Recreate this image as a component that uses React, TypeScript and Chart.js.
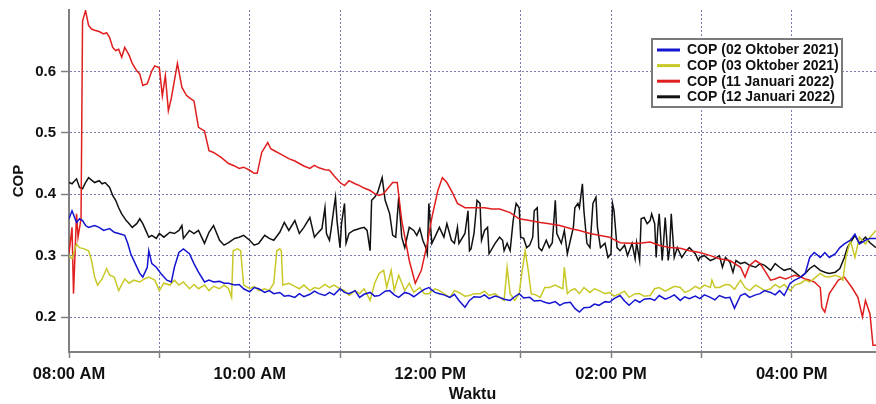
import React, { useEffect, useRef } from "react";
import { Chart, registerables } from "chart.js";

Chart.register(...registerables);

// minutes after 08:00 -> COP
const cop02Okt2021: [number, number][] = [
  [0,0.36],[2,0.373],[5,0.354],[7,0.36],[9,0.357],[11,0.349],[13,0.346],[17,0.349],[20,0.346],[23,0.341],[27,0.344],[30,0.338],[33,0.336],[37,0.333],[39,0.32],[41,0.303],[44,0.287],[47,0.271],[49,0.265],[52,0.281],[53,0.308],[55,0.287],[58,0.281],[61,0.271],[65,0.26],[68,0.257],[70,0.281],[73,0.305],[76,0.311],[80,0.303],[83,0.287],[86,0.273],[90,0.257],[93,0.26],[96,0.257],[100,0.258],[103,0.255],[106,0.255],[110,0.252],[113,0.253],[116,0.246],[120,0.241],[123,0.248],[126,0.246],[130,0.24],[133,0.243],[136,0.238],[140,0.24],[143,0.234],[146,0.235],[150,0.232],[153,0.238],[156,0.233],[160,0.237],[163,0.242],[166,0.238],[170,0.235],[173,0.24],[176,0.236],[180,0.246],[183,0.24],[186,0.238],[190,0.243],[193,0.232],[196,0.237],[200,0.24],[203,0.234],[206,0.235],[210,0.242],[213,0.243],[216,0.236],[219,0.232],[223,0.24],[226,0.238],[229,0.233],[233,0.24],[236,0.245],[239,0.248],[243,0.24],[246,0.238],[249,0.236],[253,0.232],[256,0.237],[259,0.227],[263,0.216],[266,0.227],[269,0.233],[273,0.232],[276,0.236],[279,0.23],[283,0.234],[286,0.232],[289,0.229],[293,0.227],[296,0.233],[299,0.238],[302,0.231],[306,0.232],[309,0.226],[313,0.227],[316,0.224],[319,0.222],[323,0.225],[326,0.219],[329,0.223],[333,0.224],[336,0.214],[339,0.208],[342,0.215],[346,0.216],[349,0.221],[352,0.219],[356,0.225],[359,0.224],[362,0.23],[366,0.235],[369,0.226],[372,0.219],[376,0.228],[379,0.224],[382,0.229],[386,0.23],[389,0.227],[392,0.235],[396,0.229],[399,0.232],[402,0.236],[406,0.227],[409,0.233],[412,0.23],[416,0.234],[419,0.23],[422,0.236],[426,0.232],[429,0.228],[432,0.235],[436,0.231],[439,0.232],[442,0.214],[446,0.235],[449,0.238],[452,0.232],[456,0.236],[459,0.238],[462,0.243],[466,0.24],[469,0.236],[472,0.243],[475,0.235],[479,0.255],[482,0.26],[486,0.265],[489,0.271],[492,0.297],[495,0.305],[499,0.297],[502,0.305],[505,0.297],[509,0.303],[512,0.313],[515,0.319],[519,0.325],[522,0.335],[525,0.319],[529,0.325],[532,0.328],[536,0.328]
];

const cop03Okt2021: [number, number][] = [
  [0,0.3],[2,0.295],[5,0.319],[7,0.313],[10,0.311],[13,0.308],[15,0.292],[17,0.265],[19,0.252],[22,0.262],[25,0.279],[27,0.268],[30,0.265],[33,0.243],[37,0.262],[40,0.255],[43,0.26],[47,0.257],[50,0.262],[53,0.265],[57,0.26],[60,0.243],[63,0.255],[67,0.252],[70,0.26],[73,0.252],[76,0.257],[80,0.246],[83,0.253],[86,0.246],[90,0.252],[93,0.243],[96,0.25],[100,0.246],[103,0.252],[106,0.246],[108,0.232],[109,0.308],[112,0.311],[114,0.308],[116,0.252],[120,0.246],[123,0.25],[126,0.243],[130,0.246],[133,0.243],[136,0.255],[138,0.308],[140,0.311],[141,0.308],[142,0.252],[146,0.255],[150,0.25],[153,0.246],[156,0.252],[160,0.243],[163,0.248],[166,0.246],[170,0.253],[173,0.248],[176,0.252],[180,0.246],[183,0.243],[186,0.235],[190,0.243],[193,0.238],[196,0.246],[200,0.227],[203,0.255],[206,0.271],[209,0.276],[211,0.248],[214,0.276],[216,0.243],[219,0.268],[223,0.243],[226,0.255],[229,0.24],[233,0.248],[236,0.238],[239,0.238],[243,0.246],[246,0.243],[249,0.238],[253,0.232],[256,0.243],[259,0.24],[263,0.234],[266,0.235],[269,0.238],[273,0.238],[276,0.242],[279,0.235],[283,0.238],[286,0.232],[289,0.227],[291,0.281],[293,0.238],[296,0.227],[299,0.238],[301,0.276],[303,0.308],[305,0.276],[307,0.238],[310,0.236],[313,0.232],[316,0.248],[319,0.248],[323,0.252],[326,0.248],[328,0.246],[329,0.281],[331,0.238],[333,0.243],[336,0.246],[339,0.238],[342,0.248],[346,0.24],[349,0.246],[352,0.243],[356,0.238],[359,0.24],[362,0.234],[366,0.238],[369,0.242],[372,0.232],[376,0.238],[379,0.238],[382,0.234],[386,0.235],[389,0.246],[392,0.248],[396,0.242],[399,0.246],[402,0.25],[406,0.248],[409,0.24],[412,0.243],[416,0.25],[419,0.246],[422,0.252],[426,0.248],[427,0.26],[429,0.248],[432,0.248],[436,0.253],[439,0.252],[442,0.245],[446,0.26],[449,0.248],[452,0.243],[456,0.252],[459,0.248],[462,0.243],[466,0.246],[469,0.253],[472,0.248],[475,0.253],[479,0.243],[482,0.252],[486,0.255],[489,0.26],[492,0.257],[495,0.263],[499,0.271],[502,0.266],[505,0.265],[509,0.268],[512,0.265],[514,0.26],[516,0.297],[519,0.325],[522,0.297],[525,0.33],[529,0.319],[532,0.33],[536,0.341]
];

const cop11Jan2022: [number, number][] = [
  [0,0.303],[2,0.346],[3,0.238],[5,0.368],[6,0.33],[8,0.36],[9,0.682],[11,0.699],[13,0.675],[15,0.669],[17,0.667],[20,0.665],[23,0.661],[25,0.663],[27,0.655],[29,0.639],[31,0.634],[33,0.636],[35,0.623],[37,0.639],[40,0.626],[42,0.613],[45,0.601],[47,0.596],[49,0.577],[52,0.58],[55,0.601],[57,0.609],[60,0.606],[62,0.56],[64,0.593],[66,0.536],[68,0.557],[72,0.613],[75,0.574],[78,0.561],[80,0.557],[83,0.552],[86,0.509],[90,0.503],[93,0.471],[96,0.468],[101,0.46],[106,0.45],[110,0.446],[113,0.442],[116,0.444],[120,0.439],[123,0.434],[125,0.434],[128,0.468],[132,0.484],[134,0.474],[137,0.47],[140,0.466],[143,0.462],[146,0.458],[150,0.454],[153,0.45],[156,0.446],[160,0.442],[163,0.447],[166,0.443],[170,0.44],[173,0.439],[176,0.43],[180,0.419],[183,0.414],[186,0.422],[190,0.417],[193,0.414],[196,0.41],[200,0.406],[203,0.401],[206,0.398],[209,0.401],[212,0.41],[215,0.419],[218,0.419],[221,0.357],[226,0.292],[230,0.255],[234,0.276],[238,0.32],[241,0.362],[245,0.406],[248,0.427],[251,0.419],[255,0.401],[258,0.385],[263,0.378],[269,0.378],[276,0.378],[281,0.376],[286,0.376],[293,0.37],[299,0.36],[306,0.357],[313,0.354],[319,0.352],[326,0.349],[333,0.344],[339,0.341],[346,0.336],[352,0.333],[359,0.33],[366,0.321],[372,0.32],[379,0.32],[386,0.322],[392,0.317],[399,0.313],[406,0.312],[412,0.308],[419,0.305],[426,0.3],[432,0.295],[439,0.292],[446,0.281],[449,0.265],[452,0.284],[456,0.292],[459,0.287],[462,0.276],[466,0.26],[469,0.262],[472,0.265],[476,0.262],[479,0.265],[482,0.268],[486,0.265],[489,0.262],[492,0.26],[495,0.257],[499,0.248],[500,0.216],[502,0.208],[505,0.238],[511,0.26],[515,0.265],[520,0.248],[524,0.232],[527,0.2],[529,0.227],[532,0.205],[534,0.154],[536,0.154]
];

const cop12Jan2022: [number, number][] = [
  [0,0.419],[2,0.417],[5,0.425],[7,0.411],[9,0.409],[11,0.419],[13,0.427],[17,0.419],[20,0.422],[22,0.417],[24,0.419],[27,0.411],[29,0.398],[31,0.39],[33,0.378],[35,0.368],[38,0.357],[40,0.352],[42,0.346],[45,0.352],[47,0.36],[49,0.352],[51,0.341],[53,0.33],[55,0.333],[58,0.328],[60,0.336],[63,0.33],[67,0.338],[70,0.336],[73,0.341],[75,0.349],[76,0.328],[80,0.341],[83,0.336],[86,0.341],[90,0.32],[93,0.338],[96,0.349],[100,0.325],[103,0.317],[106,0.321],[110,0.328],[113,0.33],[116,0.333],[120,0.325],[123,0.317],[126,0.32],[130,0.333],[133,0.328],[136,0.325],[140,0.338],[143,0.354],[146,0.341],[150,0.357],[153,0.336],[156,0.346],[160,0.362],[163,0.33],[165,0.336],[168,0.344],[170,0.378],[171,0.336],[173,0.325],[174,0.341],[176,0.378],[177,0.395],[178,0.357],[180,0.313],[181,0.352],[183,0.385],[184,0.32],[186,0.336],[189,0.341],[193,0.344],[196,0.346],[198,0.341],[200,0.308],[201,0.39],[203,0.395],[205,0.403],[206,0.411],[208,0.427],[210,0.39],[213,0.368],[215,0.333],[217,0.33],[219,0.395],[221,0.33],[223,0.313],[226,0.346],[229,0.341],[231,0.333],[233,0.344],[235,0.325],[237,0.313],[238,0.303],[239,0.385],[241,0.32],[243,0.33],[246,0.346],[249,0.33],[251,0.352],[254,0.325],[256,0.32],[258,0.346],[259,0.32],[263,0.336],[265,0.373],[266,0.308],[267,0.311],[269,0.336],[271,0.39],[273,0.385],[274,0.325],[276,0.341],[278,0.346],[279,0.303],[283,0.32],[286,0.33],[288,0.325],[289,0.308],[291,0.32],[293,0.308],[295,0.357],[297,0.385],[299,0.378],[300,0.33],[302,0.328],[304,0.313],[306,0.317],[308,0.33],[309,0.373],[311,0.378],[312,0.313],[314,0.308],[317,0.325],[319,0.313],[321,0.321],[323,0.39],[324,0.336],[327,0.32],[329,0.341],[331,0.303],[333,0.325],[335,0.346],[336,0.378],[338,0.385],[339,0.378],[341,0.417],[342,0.373],[344,0.32],[346,0.313],[348,0.385],[350,0.395],[351,0.346],[353,0.313],[356,0.32],[358,0.297],[360,0.303],[361,0.385],[362,0.373],[364,0.313],[366,0.308],[369,0.317],[371,0.3],[374,0.32],[376,0.295],[377,0.321],[379,0.292],[380,0.36],[382,0.362],[384,0.352],[386,0.357],[387,0.368],[389,0.352],[390,0.297],[391,0.341],[392,0.368],[394,0.292],[395,0.325],[396,0.362],[398,0.292],[399,0.313],[400,0.368],[402,0.297],[404,0.313],[407,0.297],[410,0.308],[412,0.313],[416,0.303],[418,0.292],[419,0.297],[422,0.3],[426,0.292],[429,0.295],[432,0.3],[434,0.281],[436,0.297],[439,0.289],[441,0.273],[443,0.292],[446,0.287],[449,0.289],[452,0.284],[456,0.281],[459,0.287],[462,0.284],[466,0.276],[469,0.287],[472,0.281],[475,0.276],[479,0.279],[482,0.273],[486,0.265],[489,0.271],[492,0.279],[495,0.284],[499,0.276],[502,0.273],[505,0.271],[509,0.273],[512,0.279],[515,0.297],[517,0.313],[520,0.325],[522,0.333],[525,0.32],[529,0.33],[532,0.321],[536,0.313]
];

const seriesLabels = [
  "COP (02 Oktober 2021)",
  "COP (03 Oktober 2021)",
  "COP (11 Januari 2022)",
  "COP (12 Januari 2022)",
];
const seriesColors = ["#1414d2", "#c8c828", "#e01e1e", "#111111"];

const xTickMinutes = [0, 60, 120, 180, 240, 300, 360, 420, 480];
const xTickLabels = ["08:00 AM", "", "10:00 AM", "", "12:00 PM", "", "02:00 PM", "", "04:00 PM"];
const yTickValues = [0.2, 0.3, 0.4, 0.5, 0.6];

const FONT = "'Liberation Sans', Arial, sans-serif";
const GRID = "#7a7ab4";

const legendPlugin = {
  id: "boxLegend",
  afterDraw(chart: any) {
    const ctx = chart.ctx;
    const x0 = 652, y0 = 39, w = 190, h = 68;
    ctx.save();
    ctx.fillStyle = "#ffffff";
    ctx.fillRect(x0, y0, w, h);
    ctx.strokeStyle = "#7a7a7a";
    ctx.lineWidth = 2;
    ctx.strokeRect(x0, y0, w, h);
    ctx.font = `bold 14px ${FONT}`;
    ctx.textBaseline = "middle";
    chart.data.datasets.forEach((ds: any, i: number) => {
      const cy = y0 + 11 + i * 15.6;
      ctx.strokeStyle = ds.borderColor;
      ctx.lineWidth = 3;
      ctx.beginPath();
      ctx.moveTo(x0 + 5, cy);
      ctx.lineTo(x0 + 28, cy);
      ctx.stroke();
      ctx.fillStyle = "#111";
      ctx.fillText(ds.label, x0 + 35, cy + 0.5);
    });
    ctx.restore();
  },
};

export default function App() {
  const ref = useRef<HTMLCanvasElement>(null);
  useEffect(() => {
    if (!ref.current) return;
    const all = [cop02Okt2021, cop03Okt2021, cop11Jan2022, cop12Jan2022];
    const chart = new Chart(ref.current, {
      type: "line",
      data: {
        datasets: all.map((s, i) => ({
          label: seriesLabels[i],
          data: s.map(([x, y]) => ({ x, y })),
          borderColor: seriesColors[i],
          backgroundColor: seriesColors[i],
          borderWidth: 1.5,
          pointRadius: 0,
          tension: 0,
          fill: false,
        })),
      },
      options: {
        responsive: false,
        animation: false,
        events: [],
        layout: { padding: { top: 10, right: 0, left: 0, bottom: 0 } },
        plugins: { legend: { display: false }, tooltip: { enabled: false } },
        scales: {
          x: {
            type: "linear",
            min: 0,
            max: 536,
            afterBuildTicks: (axis: any) => {
              axis.ticks = xTickMinutes.map((v) => ({ value: v }));
            },
            afterFit: (scale: any) => {
              scale.height = 52;
              scale.paddingLeft = 0;
              scale.paddingRight = 0;
            },
            ticks: {
              autoSkip: false,
              maxRotation: 0,
              padding: 7,
              color: "#111",
              font: { family: FONT, size: 16.5, weight: "bold" },
              callback: (v: any) => {
                const i = xTickMinutes.indexOf(Number(v));
                return i >= 0 ? xTickLabels[i] : "";
              },
            },
            grid: {
              color: (c: any) => (c.tick && c.tick.value === 0 ? "rgba(0,0,0,0)" : GRID),
              lineWidth: 1,
              drawTicks: true,
              tickLength: 6,
              tickColor: "#808080",
              tickWidth: 1.5,
              tickBorderDash: [],
            } as any,
            border: { display: true, color: "#808080", width: 2, dash: [2, 2] },
            title: {
              display: true,
              text: "Waktu",
              color: "#111",
              font: { family: FONT, size: 16, weight: "bold" },
              padding: { top: 0, bottom: 0 },
            },
          },
          y: {
            type: "linear",
            min: 0.143,
            max: 0.7,
            afterBuildTicks: (axis: any) => {
              axis.ticks = yTickValues.map((v) => ({ value: v }));
            },
            afterFit: (scale: any) => {
              scale.width = 69;
              scale.paddingTop = 0;
              scale.paddingBottom = 0;
            },
            ticks: {
              padding: 5,
              color: "#111",
              font: { family: FONT, size: 15, weight: "bold" },
              callback: (v: any) => Number(v).toFixed(1),
            },
            grid: {
              color: GRID,
              lineWidth: 1,
              drawTicks: true,
              tickLength: 8,
              tickColor: "#808080",
              tickWidth: 1.5,
              tickBorderDash: [],
            } as any,
            border: { display: true, color: "#808080", width: 2, dash: [2, 2] },
            title: {
              display: true,
              text: "COP",
              color: "#111",
              font: { family: FONT, size: 15, weight: "bold" },
              padding: { top: 10, bottom: 0 },
            },
          },
        },
      },
      plugins: [legendPlugin],
    } as any);
    return () => chart.destroy();
  }, []);
  return (
    <div style={{ position: "absolute", left: 0, top: 0, width: 876, height: 404, background: "#fff" }}>
      <canvas ref={ref} width={876} height={404} />
    </div>
  );
}
